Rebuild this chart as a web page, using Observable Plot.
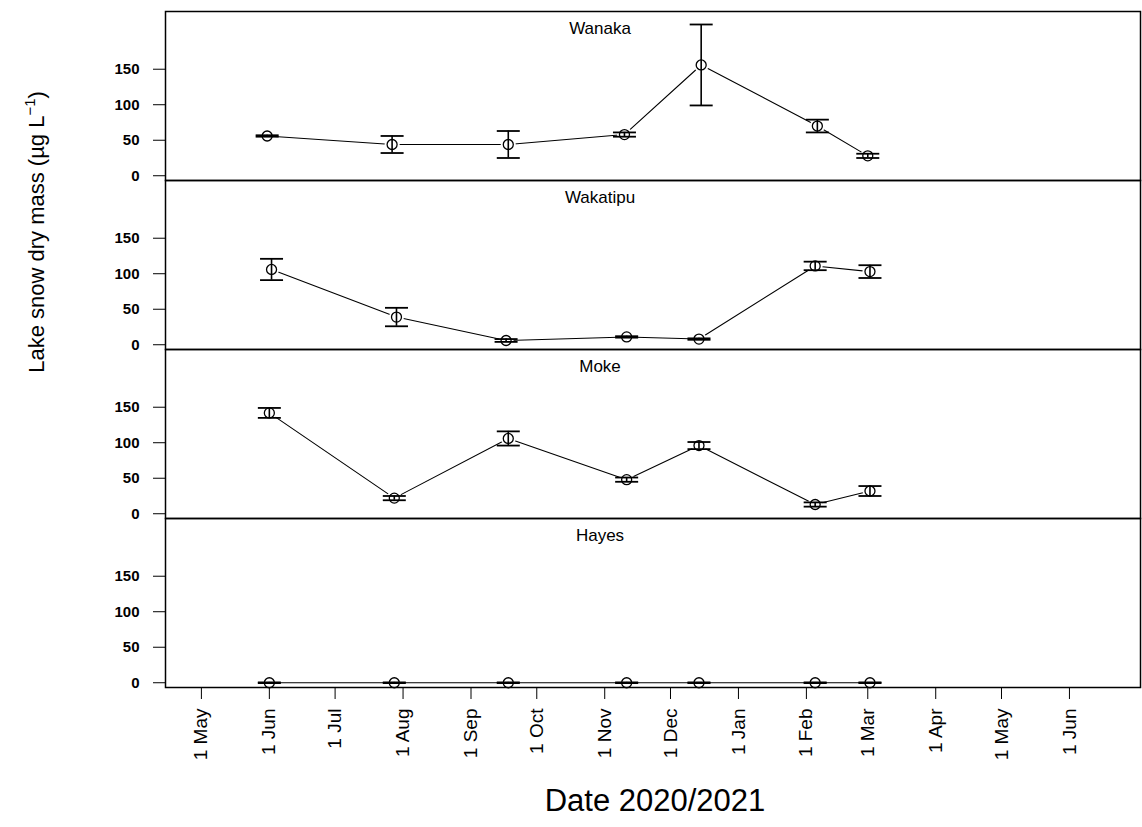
<!DOCTYPE html>
<html>
<head>
<meta charset="utf-8">
<script src="https://cdn.jsdelivr.net/npm/d3@7"></script>
<script src="https://cdn.jsdelivr.net/npm/@observablehq/plot@0.6"></script>
<style>
  body { margin: 0; background: #fff; }
  #chart svg { display: block; }
</style>
</head>
<body>
<div id="chart"></div>
<script>
// ---- Data ----
const lakes = ["Wanaka", "Wakatipu", "Moke", "Hayes"];

const wanakaDates = ["2020-05-31", "2020-07-27", "2020-09-18", "2020-11-10", "2020-12-15", "2021-02-06", "2021-03-01"];
const wanakaMean  = [56, 44, 44, 58, 156, 70, 28];
const wanakaErr   = [1, 12, 19, 3, 57, 9, 3];

const wakatipuDates = ["2020-06-02", "2020-07-29", "2020-09-17", "2020-11-11", "2020-12-14", "2021-02-05", "2021-03-02"];
const wakatipuMean  = [106, 39, 6, 11, 8, 111, 103];
const wakatipuErr   = [15, 13, 2, 1, 1, 6, 9];

const mokeDates = ["2020-06-01", "2020-07-28", "2020-09-18", "2020-11-11", "2020-12-14", "2021-02-05", "2021-03-02"];
const mokeMean  = [142, 22, 106, 48, 96, 13, 32];
const mokeErr   = [7, 3, 10, 3, 5, 3, 7];

const hayesDates = ["2020-06-01", "2020-07-28", "2020-09-18", "2020-11-11", "2020-12-14", "2021-02-05", "2021-03-02"];
const hayesMean  = [0, 0, 0, 0, 0, 0, 0];
const hayesErr   = [0.5, 0.5, 0.5, 0.5, 0.5, 0.5, 0.5];

const monthTicks  = ["2020-05-01", "2020-06-01", "2020-07-01", "2020-08-01", "2020-09-01", "2020-10-01", "2020-11-01",
                     "2020-12-01", "2021-01-01", "2021-02-01", "2021-03-01", "2021-04-01", "2021-05-01", "2021-06-01"];
const monthLabels = ["1 May", "1 Jun", "1 Jul", "1 Aug", "1 Sep", "1 Oct", "1 Nov",
                     "1 Dec", "1 Jan", "1 Feb", "1 Mar", "1 Apr", "1 May", "1 Jun"];
const yTicks = [0, 50, 100, 150];

// ---- Build table ----
const series = [
  [lakes[0], wanakaDates, wanakaMean, wanakaErr],
  [lakes[1], wakatipuDates, wakatipuMean, wakatipuErr],
  [lakes[2], mokeDates, mokeMean, mokeErr],
  [lakes[3], hayesDates, hayesMean, hayesErr]
];
const rows = series.flatMap(([lake, dates, mean, err]) =>
  dates.map((d, i) => ({lake, date: new Date(d), mean: mean[i], lo: mean[i] - err[i], hi: mean[i] + err[i]}))
);
const tickDates = monthTicks.map(d => new Date(d));
const labelByTime = new Map(tickDates.map((d, i) => [+d, monthLabels[i]]));

// horizontal cap symbol for error bars
const capSymbol = {
  draw(ctx, size) {
    const w = Math.sqrt(size / Math.PI);
    ctx.moveTo(-w, 0);
    ctx.lineTo(w, 0);
  }
};

const W = 1142, H = 827;
const font = "'Liberation Sans', Arial, sans-serif";

const chart = Plot.plot({
  width: W,
  height: H,
  marginLeft: 165,
  marginRight: 2,
  marginTop: 9,
  marginBottom: 139,
  style: {fontFamily: font, color: "#000", background: "#fff"},
  x: {type: "utc", domain: [new Date("2020-04-14T15:00:00Z"), new Date("2021-07-03T10:00:00Z")]},
  y: {domain: [-6.7, 231.3]},
  fy: {domain: lakes, padding: 0, axis: null},
  marks: [
    Plot.line(rows, {x: "date", y: "mean", fy: "lake", z: "lake", stroke: "#000", strokeWidth: 1.1}),
    // white halo gives the "type = b" gap between line and point
    Plot.dot(rows, {x: "date", y: "mean", fy: "lake", r: 7.5, stroke: "none", fill: "#fff"}),
    Plot.dot(rows, {x: "date", y: "mean", fy: "lake", r: 5, stroke: "#000", fill: "none", strokeWidth: 1.3}),
    Plot.ruleX(rows, {x: "date", y1: "lo", y2: "hi", fy: "lake", stroke: "#000", strokeWidth: 1.6}),
    Plot.dot(rows, {x: "date", y: "lo", fy: "lake", symbol: capSymbol, r: 11.5, stroke: "#000", strokeWidth: 1.8, fill: "none"}),
    Plot.dot(rows, {x: "date", y: "hi", fy: "lake", symbol: capSymbol, r: 11.5, stroke: "#000", strokeWidth: 1.8, fill: "none"}),
    Plot.text(lakes, {fy: d => d, text: d => d, frameAnchor: "top", dx: -53, dy: 17, lineAnchor: "middle",
                      fontSize: 17, fill: "#000"}),
    Plot.frame({stroke: "#000", strokeWidth: 1.5}),
    Plot.axisY({ticks: yTicks, tickSize: 12, tickPadding: 14, fontSize: 15, fontWeight: "bold", label: null, stroke: "#000"}),
    Plot.axisX({ticks: tickDates, tickFormat: d => labelByTime.get(+d), tickRotate: -90, tickSize: 12,
                tickPadding: 9, fontSize: 19, label: null, stroke: "#000"})
  ]
});

const svg = d3.select(chart);
// y axis title
const yt = svg.append("text")
  .attr("transform", "translate(44,232) rotate(-90)")
  .attr("text-anchor", "middle")
  .attr("font-family", font)
  .attr("font-size", 22)
  .attr("fill", "#000");
yt.append("tspan").text("Lake snow dry mass (µg L");
yt.append("tspan").attr("dy", -9).attr("font-size", 15).text("−1");
yt.append("tspan").attr("dy", 9).text(")");
// x axis title
svg.append("text")
  .attr("x", 655)
  .attr("y", 811)
  .attr("text-anchor", "middle")
  .attr("font-family", font)
  .attr("font-size", 31)
  .attr("fill", "#000")
  .text("Date 2020/2021");

document.getElementById("chart").appendChild(chart);
</script>
</body>
</html>
